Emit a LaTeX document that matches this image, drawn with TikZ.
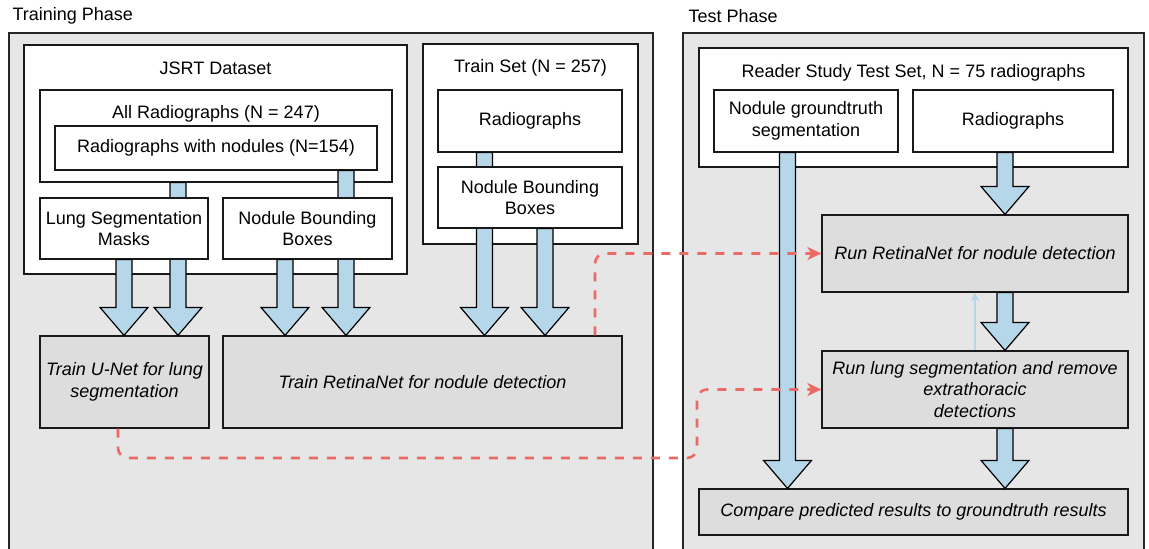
\documentclass[tikz,border=0pt]{standalone}
\usepackage{fontspec}
\setmainfont{Liberation Sans}
\usetikzlibrary{calc,arrows.meta}
\definecolor{phasegray}{RGB}{230,230,230}
\definecolor{taskgray}{RGB}{221,221,221}
\definecolor{arrowblue}{RGB}{182,215,234}
\definecolor{linkred}{RGB}{234,107,102}
\tikzset{
  phase/.style={draw=black!85, line width=1.2pt, fill=phasegray, inner sep=0pt},
  holder/.style={draw=black!90, line width=1.2pt, fill=white, inner sep=0pt},
  item/.style={draw=black!90, line width=1.2pt, fill=white, align=center, inner sep=0pt},
  task/.style={draw=black!90, line width=1.2pt, fill=taskgray, align=center, inner sep=0pt, font=\fontsize{18}{21.5}\selectfont\itshape},
  fat/.style={draw=black, line width=1.2pt, fill=arrowblue, line join=miter,
    to path={let \p1=(\tikztostart), \p2=(\tikztotarget) in
      (\x1-8pt,\y1) -- (\x1-8pt,\y2+28pt) -- (\x1-24pt,\y2+28pt) -- (\x1,\y2)
      -- (\x1+24pt,\y2+28pt) -- (\x1+8pt,\y2+28pt) -- (\x1+8pt,\y1) -- cycle}},
  feed/.style={draw=linkred, line width=2.6pt, dash pattern=on 9pt off 9pt, rounded corners=10pt,
    -{Stealth[length=14pt,width=13pt,inset=4pt]}},
  hint/.style={draw=arrowblue, line width=1.2pt, -{Stealth[length=9pt,width=9pt,inset=3pt]}}
}
\begin{document}
\begin{tikzpicture}[x=1pt, y=-1pt, every node/.style={font=\fontsize{18}{21.5}\selectfont}]
\useasboundingbox (0,0) rectangle (1149,549);
% phases
\node[anchor=west] (traintitle) at (9,16) {Training Phase};
\node[anchor=west] (testtitle) at (685,16) {Test Phase};
\node[phase, minimum width=644, minimum height=527] (trainphase) at (331,296.5) {};
\node[phase, minimum width=461, minimum height=527] (testphase) at (913.5,296.5) {};
% training data
\node[holder, minimum width=383, minimum height=229] (jsrt) at (215.5,159.5) {};
\node (jsrttitle) at (215.5,68) {JSRT Dataset};
\node[holder, minimum width=352, minimum height=92] (allrad) at (216,136) {};
\node (allradtitle) at (216,114) {All Radiographs (N = 247)};
\node[item, minimum width=322, minimum height=44] (radnod) at (216,148) {Radiographs with nodules (N=154)};
\node[holder, minimum width=215, minimum height=200] (trainset) at (530.5,144) {};
\node (trainsettitle) at (530.5,68) {Train Set (N = 257)};
\node[item, minimum width=184, minimum height=62] (trainrad) at (530,121) {Radiographs};
% test data
\node[holder, minimum width=429, minimum height=119] (reader) at (913.5,107.5) {};
\node (readertitle) at (913.5,73) {Reader Study Test Set, N = 75 radiographs};
\node[item, minimum width=184, minimum height=62] (truthseg) at (806,121) {Nodule groundtruth\\segmentation};
\node[item, minimum width=200, minimum height=62] (testrad) at (1013,121) {Radiographs};
% steps
\node[task, minimum width=169, minimum height=92] (unet) at (124.5,382) {Train U-Net for lung\\segmentation};
\node[task, minimum width=399, minimum height=92] (trainret) at (422.5,382) {Train RetinaNet for nodule detection};
\node[task, minimum width=306, minimum height=77] (runret) at (975,253.5) {Run RetinaNet for nodule detection};
\node[task, minimum width=306, minimum height=77] (runlung) at (975,389.5) {Run lung segmentation and remove\\extrathoracic\\detections};
\node[task, minimum width=429, minimum height=46] (compare) at (913.5,512) {Compare predicted results to groundtruth results};
% block arrows
\draw[fat] (allrad.south -| 178,0) to (unet.north -| 178,0);
\draw[fat] (radnod.south -| 346,0) to (trainret.north -| 346,0);
\draw[fat] (trainrad.south -| 484.5,0) to (trainret.north -| 484.5,0);
\draw[fat] (truthseg.south -| 787.5,0) to (compare.north -| 787.5,0);
\node[item, minimum width=168, minimum height=61] (lungmask) at (124,228.5) {Lung Segmentation\\Masks};
\node[item, minimum width=169, minimum height=61] (boxesa) at (307.5,228.5) {Nodule Bounding\\Boxes};
\node[item, minimum width=184, minimum height=61] (boxesb) at (530,197.5) {Nodule Bounding\\Boxes};
\draw[fat] (lungmask.south -| 124,0) to (unet.north -| 124,0);
\draw[fat] (boxesa.south -| 285,0) to (trainret.north -| 285,0);
\draw[fat] (boxesb.south -| 545,0) to (trainret.north -| 545,0);
\draw[fat] (testrad.south -| 1005,0) to (runret.north -| 1005,0);
\draw[fat] (runret.south -| 1005,0) to (runlung.north -| 1005,0);
\draw[fat] (runlung.south -| 1005,0) to (compare.north -| 1005,0);
\draw[hint] (runlung.north -| 975,0) -- (runret.south -| 975,0);
% model hand-over
\coordinate (detour) at (697,458);
\draw[feed] (trainret.north -| 595,0) |- (runret.west);
\draw[feed] (unet.south -| 118,0) |- (detour) |- (runlung.west);
\end{tikzpicture}
\end{document}
